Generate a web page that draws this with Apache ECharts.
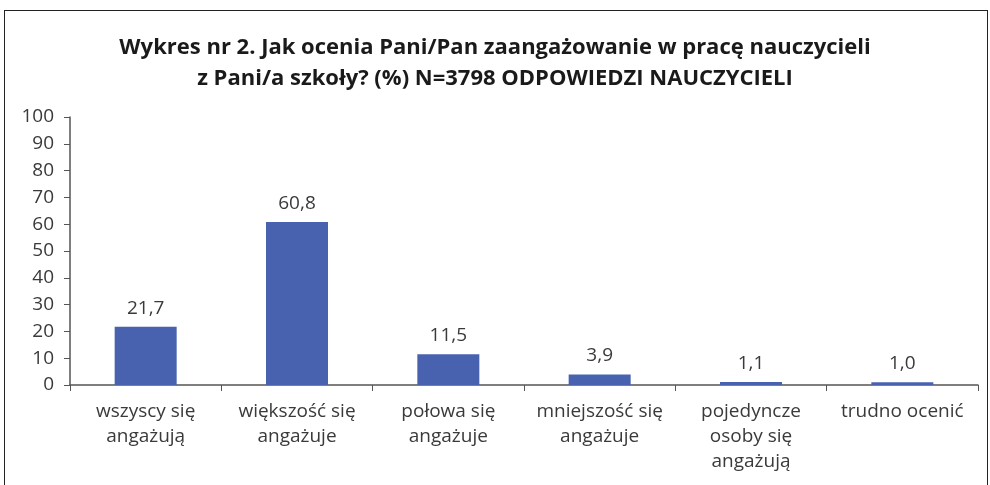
<!DOCTYPE html>
<html><head><meta charset="utf-8">
<script src="https://cdn.jsdelivr.net/npm/echarts@6/dist/echarts.min.js"></script>
<style>html,body{margin:0;padding:0;background:#fff}#c{width:990px;height:485px}
#frame{position:absolute;left:4px;top:10px;width:984px;height:480px;border-left:1.5px solid #222;border-top:1.5px solid #222;border-right:1.5px solid #222;box-sizing:border-box;pointer-events:none}</style>
</head><body><div id="c"></div><div id="frame"></div>
<script>
const titleLines = ['Wykres nr 2. Jak ocenia Pani/Pan zaangażowanie w pracę nauczycieli', 'z Pani/a szkoły? (%) N=3798 ODPOWIEDZI NAUCZYCIELI'];
const categories = ['wszyscy się\nangażują', 'większość się\nangażuje', 'połowa się\nangażuje', 'mniejszość się\nangażuje', 'pojedyncze\nosoby się\nangażują', 'trudno ocenić'];
const values = [21.7, 60.8, 11.5, 3.9, 1.1, 1.0];
const yTicks = [0, 10, 20, 30, 40, 50, 60, 70, 80, 90, 100];

const chart = echarts.init(document.getElementById('c'));
const FF = '"Open Sans", Lato, sans-serif';
chart.setOption({
  animation: false,
  title: {
    text: titleLines.join('\n'),
    left: 'center', top: 27,
    textStyle: {fontFamily: FF, fontWeight: 'bold', fontSize: 22, color: '#1a1a1a', lineHeight: 31}
  },
  grid: {left: 70, right: 12, top: 117, bottom: 100, containLabel: false},
  xAxis: {
    type: 'category', data: categories,
    axisLine: {lineStyle: {color: '#555', width: 1.5}},
    axisTick: {show: true, alignWithLabel: false, length: 6, lineStyle: {color: '#555'}},
    axisLabel: {fontFamily: FF, fontSize: 19, color: '#3a3a3a', lineHeight: 25, margin: 14, interval: 0}
  },
  yAxis: {
    type: 'value', min: yTicks[0], max: yTicks[yTicks.length - 1], interval: 10,
    splitLine: {show: false},
    axisLine: {show: true, lineStyle: {color: '#555', width: 1.5}},
    axisTick: {show: true, length: 6, lineStyle: {color: '#555'}},
    axisLabel: {fontFamily: FF, fontSize: 19, color: '#3a3a3a', margin: 16}
  },
  series: [{
    type: 'bar', data: values, barWidth: 62,
    itemStyle: {color: '#4862b0'},
    label: {show: true, position: 'top', distance: 9, fontFamily: FF, fontSize: 19, color: '#3a3a3a',
      formatter: p => p.value.toFixed(1).replace('.', ',')}
  }]
});
</script></body></html>
